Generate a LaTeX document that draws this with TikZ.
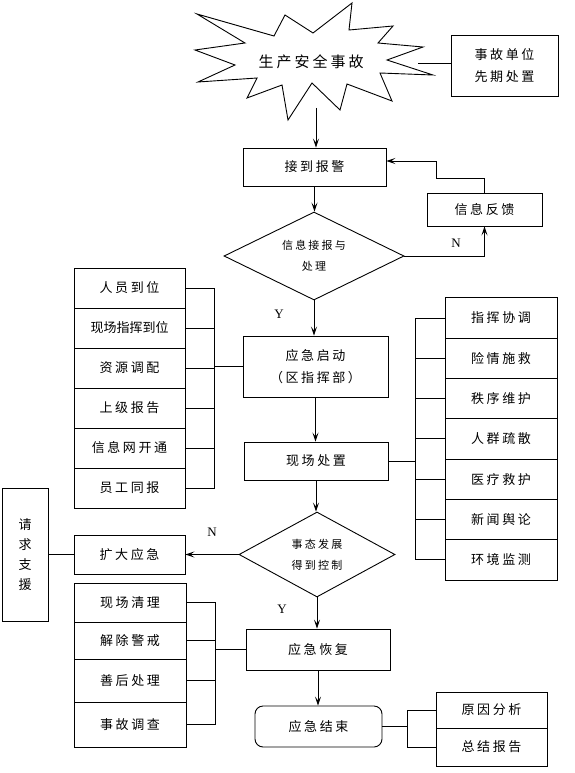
\documentclass[tikz,border=0pt]{standalone}
\usepackage{fontspec}
\setmainfont{Liberation Serif}
\newfontfamily\cjk[LetterSpace=20]{Noto Sans CJK SC}
\usetikzlibrary{shapes.geometric,arrows.meta}

\begin{document}
\begin{tikzpicture}[x=1pt,y=-1pt,line width=0.9pt,
    box/.style={draw,rectangle,inner sep=0pt,align=center,font=\cjk\fontsize{13}{22}\selectfont},
    choice/.style={draw,diamond,aspect=2,inner sep=0pt,align=center,font=\cjk\fontsize{11}{21}\selectfont},
    arr/.style={-{Stealth[length=9pt,width=6pt,inset=4pt]}},
    yn/.style={font=\fontsize{13}{15}\selectfont}]
        \useasboundingbox (0,0) rectangle (574,773);
        \def\cw{111}
        %Burst
        \draw (197,14) -- (274,36) -- (285,15) -- (313,33) -- (352,3) -- (349,30) -- (393,26) -- (378,43)
          -- (423,47) -- (387,60) -- (433,75) -- (380,73) -- (392,101) -- (347,84) -- (340,110) -- (312,83)
          -- (288,120) -- (282,85) -- (247,98) -- (257,78) -- (198,82) -- (235,65) -- (195,50) -- (245,43) -- cycle;
        \node[font=\cjk\fontsize{15}{18}\selectfont] (accident) at (311,62) {生产安全事故};
        \coordinate (burstE) at (418,63);
        \coordinate (burstS) at (316,108);
        %Main chain
        \node[box,minimum width=107pt,minimum height=61pt] (prior) at (504.5,65.5) {事故单位\\先期处置};
        \node[box,minimum width=143pt,minimum height=38pt] (alarm) at (314.5,167) {接到报警};
        \node[choice,minimum width=180pt,minimum height=88pt] (judge) at (314,256) {信息接报与\\处理};
        \node[box,minimum width=115pt,minimum height=33pt] (feedback) at (484.5,209.5) {信息反馈};
        \node[box,minimum width=145pt,minimum height=61pt] (start) at (315.5,366.5) {应急启动\\（区指挥部）};
        \node[box,minimum width=144pt,minimum height=38pt] (onsite) at (316,461) {现场处置};
        \node[choice,minimum width=156pt,minimum height=85pt] (control) at (317,554.5) {事态发展\\得到控制};
        \node[box,minimum width=\cw pt,minimum height=39pt] (expand) at (129.5,554.5) {扩大应急};
        \node[box,minimum width=46pt,minimum height=133pt,font=\cjk\fontsize{13}{20}\selectfont] (support) at (25,554.5) {请\\求\\支\\援};
        \node[box,minimum width=144pt,minimum height=41pt] (recover) at (318,649.5) {应急恢复};
        \node[box,rounded corners=8pt,minimum width=127pt,minimum height=41pt] (finish) at (318.5,726.5) {应急结束};
        %Left column
        \node[box,minimum width=\cw pt,minimum height=40pt] (L1) at (129.5,288) {人员到位};
        \node[box,minimum width=\cw pt,minimum height=40pt,font=\cjk\fontsize{13}{22}\selectfont\addfontfeature{LetterSpace=0}] (L2) at (129.5,328) {现场指挥到位};
        \node[box,minimum width=\cw pt,minimum height=40pt] (L3) at (129.5,368) {资源调配};
        \node[box,minimum width=\cw pt,minimum height=40pt] (L4) at (129.5,408) {上级报告};
        \node[box,minimum width=\cw pt,minimum height=40pt] (L5) at (129.5,448) {信息网开通};
        \node[box,minimum width=\cw pt,minimum height=40pt] (L6) at (129.5,488) {员工同报};
        %Right column
        \node[box,minimum width=112pt,minimum height=40.3pt] (R1) at (501,318) {指挥协调};
        \node[box,minimum width=112pt,minimum height=40.3pt] (R2) at (501,358.3) {险情施救};
        \node[box,minimum width=112pt,minimum height=40.3pt] (R3) at (501,398.6) {秩序维护};
        \node[box,minimum width=112pt,minimum height=40.3pt] (R4) at (501,438.9) {人群疏散};
        \node[box,minimum width=112pt,minimum height=40.3pt] (R5) at (501,479.2) {医疗救护};
        \node[box,minimum width=112pt,minimum height=40.3pt] (R6) at (501,519.5) {新闻舆论};
        \node[box,minimum width=112pt,minimum height=40.3pt] (R7) at (501,559.8) {环境监测};
        %Bottom left
        \node[box,minimum width=112pt,minimum height=39pt] (B1) at (130,602.5) {现场清理};
        \node[box,minimum width=112pt,minimum height=37pt] (B2) at (130,640.5) {解除警戒};
        \node[box,minimum width=112pt,minimum height=43pt] (B3) at (130,680.5) {善后处理};
        \node[box,minimum width=112pt,minimum height=45pt] (B4) at (130,724.5) {事故调查};
        %Bottom right
        \node[box,minimum width=111pt,minimum height=36pt] (C1) at (491.5,710) {原因分析};
        \node[box,minimum width=111pt,minimum height=38pt] (C2) at (491.5,747) {总结报告};
        %Arrows
        \draw (burstE) -- (burstE -| prior.west);
        \draw[arr] (burstS) -- (burstS |- alarm.north);
        \draw[arr] (alarm.south) -- (alarm.south |- judge.north);
        \draw[arr] (judge.east) -| (feedback.south);
        \draw[arr] (feedback.north) |- (436,178) |- ([yshift=6pt]alarm.east);
        \draw[arr] (judge.south) -- (judge.south |- start.north);
        \draw[arr] (start.south) -- (start.south |- onsite.north);
        \draw[arr] (onsite.south) -- (onsite.south |- control.north);
        \draw[arr] (control.west) -- (expand.east);
        \draw (support.east) -- (expand.west);
        \draw[arr] (control.south) -- (control.south |- recover.north);
        \draw[arr] (recover.south) -- (recover.south |- finish.north);
        \node[yn] (n1) at (456,243) {N};
        \node[yn] (y1) at (279,314) {Y};
        \node[yn] (n2) at (212,532) {N};
        \node[yn] (y2) at (282,609) {Y};
        %Brackets
        \draw (L1.east) -- ++(29,0) |- (L6.east);
        \draw (L2.east) -- ++(29,0);
        \draw (L3.east) -- ++(29,0);
        \draw (L4.east) -- ++(29,0);
        \draw (L5.east) -- ++(29,0);
        \draw (start.west) -- ++(-29,0);
        \draw (R1.west) -- ++(-29,0) |- (R7.west);
        \draw (R2.west) -- ++(-29,0);
        \draw (R3.west) -- ++(-29,0);
        \draw (R4.west) -- ++(-29,0);
        \draw (R5.west) -- ++(-29,0);
        \draw (R6.west) -- ++(-29,0);
        \draw (onsite.east) -- ++(28,0);
        \draw (B1.east) -- ++(29,0) |- (B4.east);
        \draw (B2.east) -- ++(29,0);
        \draw (B3.east) -- ++(29,0);
        \draw (recover.west) -- ++(-31,0);
        \draw (C1.west) -- ++(-28,0) |- (C2.west);
        \draw (finish.east) -- ++(26,0);
\end{tikzpicture}
\end{document}
